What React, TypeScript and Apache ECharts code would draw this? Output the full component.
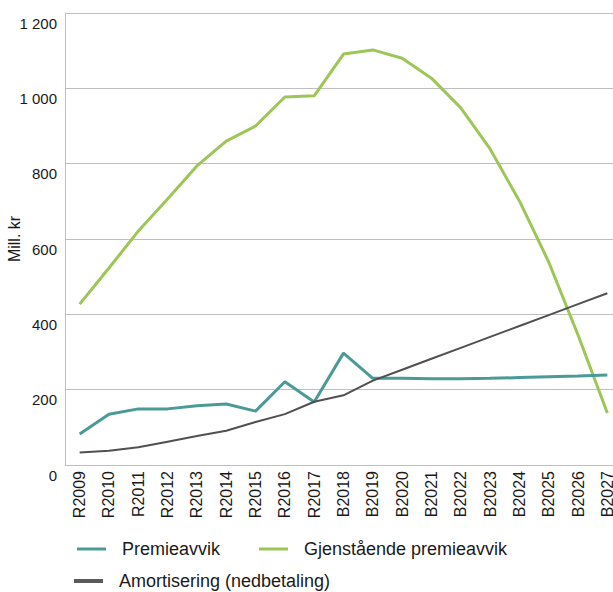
import React, { useEffect, useRef } from "react";
import * as echarts from "echarts";

const categories = [
  "R2009", "R2010", "R2011", "R2012", "R2013", "R2014", "R2015", "R2016", "R2017",
  "B2018", "B2019", "B2020", "B2021", "B2022", "B2023", "B2024", "B2025", "B2026", "B2027",
];

const premieavvik = [82, 135, 149, 149, 157, 162, 143, 221, 167, 297, 230, 230, 229, 229, 230, 232, 234, 236, 239];
const gjenstaende = [427, 523, 621, 706, 794, 860, 900, 977, 980, 1091, 1102, 1080, 1027, 948, 839, 701, 539, 345, 138];
const amortisering = [33, 38, 47, 62, 77, 91, 114, 135, 168, 185, 224, 253, 282, 311, 340, 369, 398, 427, 456];

const seriesNames = ["Premieavvik", "Gjenstående premieavvik", "Amortisering (nedbetaling)"];
const yTicks = { min: 0, max: 1200, interval: 200 };

const FONT = "'Liberation Sans', Arial, sans-serif";

export default function App() {
  const ref = useRef<HTMLDivElement>(null);
  useEffect(() => {
    if (!ref.current) return;
    const chart = echarts.init(ref.current, undefined, { renderer: "svg" });
    const legendText = { fontFamily: FONT, fontSize: 18, color: "#1a1a1a", padding: [0, 0, 0, 11] };
    chart.setOption({
      animation: false,
      backgroundColor: "#ffffff",
      textStyle: { fontFamily: FONT },
      grid: { left: 65, top: 13, width: 557, height: 452, containLabel: false, outerBoundsMode: "none" },
      legend: [
        {
          data: [seriesNames[0]],
          left: 72, top: 535, itemWidth: 29, itemHeight: 3, icon: "rect",
          textStyle: legendText,
        },
        {
          data: [seriesNames[1]],
          left: 254, top: 535, itemWidth: 29, itemHeight: 3, icon: "rect",
          textStyle: legendText,
        },
        {
          data: [seriesNames[2]],
          left: 69, top: 567, itemWidth: 29, itemHeight: 4, icon: "rect",
          textStyle: legendText,
        },
      ],
      xAxis: {
        type: "category",
        data: categories,
        boundaryGap: true,
        axisLine: { show: true, lineStyle: { color: "#bfbfbf", width: 1 } },
        axisTick: { show: false },
        axisLabel: {
          rotate: 90,
          interval: 0,
          margin: 6,
          fontFamily: FONT,
          fontSize: 16,
          color: "#1a1a1a",
        },
      },
      yAxis: {
        type: "value",
        min: yTicks.min,
        max: yTicks.max,
        interval: yTicks.interval,
        name: "Mill. kr",
        nameLocation: "middle",
        nameGap: 43,
        nameMoveOverlap: false,
        nameTextStyle: { fontFamily: FONT, fontSize: 16, color: "#1a1a1a" },
        axisLine: { show: true, lineStyle: { color: "#bfbfbf", width: 1 } },
        axisTick: { show: false },
        splitLine: { show: true, lineStyle: { color: "#bfbfbf", width: 1 } },
        axisLabel: {
          margin: 8,
          fontFamily: FONT,
          fontSize: 15,
          color: "#1a1a1a",
          verticalAlign: "top",
          lineHeight: 20,
          formatter: (v: number) => String(v).replace(/\B(?=(\d{3})+(?!\d))/g, " "),
        },
      },
      series: [
        {
          name: seriesNames[0],
          type: "line",
          data: premieavvik,
          symbol: "none",
          lineStyle: { color: "#4b9a98", width: 3 },
          itemStyle: { color: "#4b9a98" },
          z: 3,
        },
        {
          name: seriesNames[1],
          type: "line",
          data: gjenstaende,
          symbol: "none",
          lineStyle: { color: "#9cc656", width: 3 },
          itemStyle: { color: "#9cc656" },
          z: 2,
        },
        {
          name: seriesNames[2],
          type: "line",
          data: amortisering,
          symbol: "none",
          lineStyle: { color: "#505050", width: 2 },
          itemStyle: { color: "#5a5a5a" },
          z: 4,
        },
      ],
    });
    return () => chart.dispose();
  }, []);
  return (
    <div
      ref={ref}
      style={{ position: "absolute", left: 0, top: 0, width: 613, height: 592 }}
    />
  );
}
